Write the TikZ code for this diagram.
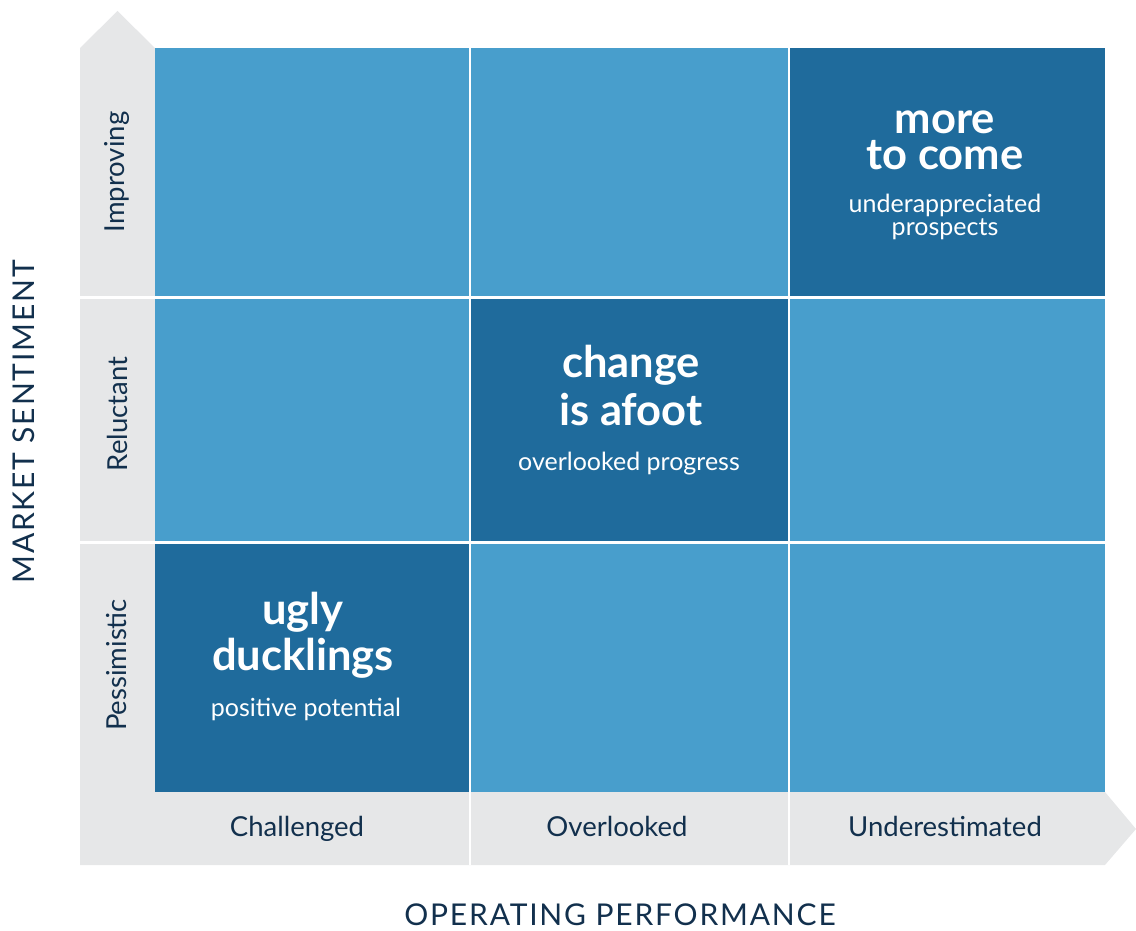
\documentclass[tikz,border=0pt]{standalone}
\usepackage{fontspec}
\setmainfont{Lato}
\newfontfamily\spaced[LetterSpace=6]{Lato}
\definecolor{lightblue}{HTML}{489ECC}
\definecolor{darkblue}{HTML}{1F6B9C}
\definecolor{axisgray}{HTML}{E6E7E8}
\definecolor{navy}{HTML}{12304D}
\tikzset{
  cellL/.style={fill=lightblue},
  cellD/.style={fill=darkblue},
  sep/.style={draw=white, line width=2.2pt},
  axislabel/.style={text=navy, font=\fontsize{27.5}{32}\selectfont, inner sep=0pt},
  axistitle/.style={text=navy, font=\spaced\fontsize{30}{34}\selectfont, inner sep=0pt},
  title/.style={text=white, font=\bfseries\fontsize{43.5}{47}\selectfont, inner sep=0pt, anchor=base, text depth=0pt},
  subtitle/.style={text=white, font=\fontsize{25}{26}\selectfont, inner sep=0pt, anchor=base},
}
\begin{document}
\begin{tikzpicture}[x=1pt,y=-1pt]
\useasboundingbox (0,0) rectangle (1136,931);
% gray axes with arrows
\fill[axisgray] (80,865) -- (80,48) -- (117.5,11) -- (155,48) -- (155,792) -- (1105,792) -- (1136,829) -- (1105,865) -- cycle;
% cells
\fill[cellL] (155,48) rectangle (470,297.5);
\fill[cellL] (470,48) rectangle (789,297.5);
\fill[cellD] (789,48) rectangle (1105,297.5);
\fill[cellL] (155,297.5) rectangle (470,542.5);
\fill[cellD] (470,297.5) rectangle (789,542.5);
\fill[cellL] (789,297.5) rectangle (1105,542.5);
\fill[cellD] (155,542.5) rectangle (470,792);
\fill[cellL] (470,542.5) rectangle (789,792);
\fill[cellL] (789,542.5) rectangle (1105,792);
% separators
\draw[sep] (80,297.5) -- (1105,297.5);
\draw[sep] (80,542.5) -- (1105,542.5);
\draw[sep] (470,48) -- (470,865);
\draw[sep] (789,48) -- (789,865);
% row labels
\node[axislabel, rotate=90] (improving) at (117,172) {Improving};
\node[axislabel, rotate=90] (reluctant) at (117,414) {Reluctant};
\node[axislabel, rotate=90] (pessimistic) at (117,665) {Pessimistic};
% column labels
\node[axislabel, anchor=base] (challenged) at (297,836) {Challenged};
\node[axislabel, anchor=base] (overlooked) at (617,836) {Overlooked};
\node[axislabel, anchor=base] (underestimated) at (945,836) {Underestimated};
% axis titles
\node[axistitle, rotate=90] (market) at (24,422) {MARKET SENTIMENT};
\node[axistitle] (operating) at (620,915) {OPERATING PERFORMANCE};
% cell texts
\node[title, anchor=center, align=center, font=\bfseries\fontsize{43.5}{36}\selectfont] (more) at (945,140.5) {more\\to come};
\node[subtitle] (under) at (945,212) {underappreciated};
\node[subtitle] (prospects) at (945,235) {prospects};
\node[title] (change) at (631,377) {change};
\node[title] (afoot) at (631,425) {is afoot};
\node[subtitle] (progress) at (629,470) {overlooked progress};
\node[title] (ugly) at (303,624) {ugly};
\node[title] (ducklings) at (303,670) {ducklings};
\node[subtitle] (positive) at (306,716) {positive potential};
\end{tikzpicture}
\end{document}
